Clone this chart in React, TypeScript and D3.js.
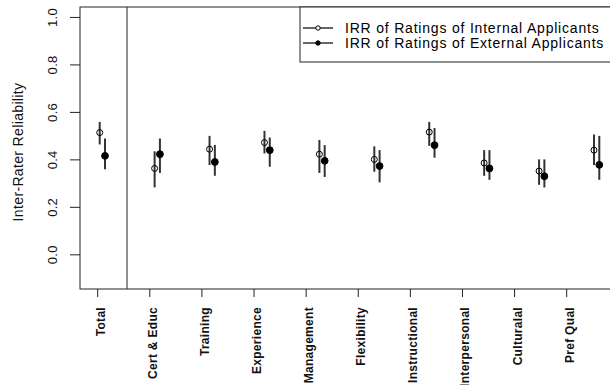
import React from "react";
import * as d3 from "d3";

const categories = [
  "Total",
  "Cert & Educ",
  "Training",
  "Experience",
  "Management",
  "Flexibility",
  "Instructional",
  "Interpersonal",
  "Culturalal",
  "Pref Qual",
];

// internal applicants: estimate, lower, upper
const internalEst = [0.515, 0.364, 0.445, 0.473, 0.424, 0.402, 0.517, 0.387, 0.353, 0.441];
const internalLo = [0.465, 0.284, 0.378, 0.427, 0.345, 0.35, 0.459, 0.333, 0.295, 0.378];
const internalHi = [0.56, 0.436, 0.501, 0.522, 0.484, 0.457, 0.56, 0.441, 0.402, 0.507];

// external applicants
const externalEst = [0.417, 0.424, 0.391, 0.441, 0.396, 0.374, 0.462, 0.364, 0.331, 0.379];
const externalLo = [0.361, 0.345, 0.333, 0.371, 0.328, 0.305, 0.409, 0.316, 0.284, 0.316];
const externalHi = [0.49, 0.49, 0.463, 0.494, 0.462, 0.441, 0.534, 0.441, 0.402, 0.501];

const yTicks = [0, 0.2, 0.4, 0.6, 0.8, 1.0];
const legendLabels = [
  "IRR of Ratings of Internal Applicants",
  "IRR of Ratings of External Applicants",
];

const W = 610;
const H = 385;
const plot = { left: 80, right: 614, top: 7, bottom: 289 };

export default function App() {
  const y = d3.scaleLinear().domain([-0.144, 1.044]).range([plot.bottom, plot.top]);
  // marker positions and label tick positions don't share spacing in the original
  const xPt = d3.scaleLinear().domain([0, 9]).range([99.7, 594]);
  const xTick = d3.scaleLinear().domain([0, 9]).range([97.7, 566.7]);
  const extOffset = 5.3;
  const divider = 127;
  const axisColor = "#222";
  const barColor = "#333";
  const font = "'Liberation Sans', Arial, sans-serif";

  const series = [
    { est: internalEst, lo: internalLo, hi: internalHi, dx: 0, filled: false },
    { est: externalEst, lo: externalLo, hi: externalHi, dx: extOffset, filled: true },
  ];

  return (
    <svg
      width={W}
      height={H}
      style={{ position: "absolute", left: 0, top: 0, background: "#fff" }}
      fontFamily={font}
    >
      <rect x={0} y={0} width={W} height={H} fill="#fff" />
      {/* plot box */}
      <rect
        x={plot.left}
        y={plot.top}
        width={plot.right - plot.left}
        height={plot.bottom - plot.top}
        fill="none"
        stroke={axisColor}
        strokeWidth={1}
      />
      <line x1={divider} x2={divider} y1={plot.top} y2={plot.bottom} stroke={axisColor} strokeWidth={1} />

      {/* y axis */}
      {yTicks.map((t) => (
        <g key={t}>
          <line x1={plot.left - 10} x2={plot.left} y1={y(t)} y2={y(t)} stroke={axisColor} />
          <text
            transform={`translate(${plot.left - 23},${y(t)}) rotate(-90)`}
            textAnchor="middle"
            fontSize={13}
            letterSpacing={0.3}
            fill="#111"
          >
            {t.toFixed(1)}
          </text>
        </g>
      ))}
      <text
        transform={`translate(23,${(plot.top + plot.bottom) / 2 + 4}) rotate(-90)`}
        textAnchor="middle"
        fontSize={14}
        letterSpacing={0.35}
        fill="#111"
      >
        Inter-Rater Reliability
      </text>

      {/* x axis ticks & labels */}
      {categories.map((c, i) => (
        <g key={c}>
          <line x1={xTick(i)} x2={xTick(i)} y1={plot.bottom} y2={plot.bottom + 8} stroke={axisColor} />
          <text
            transform={`translate(${xTick(i) + 7},${plot.bottom + 18}) rotate(-90)`}
            textAnchor="end"
            fontSize={12}
            fontWeight="bold"
            letterSpacing={0.3}
            fill="#111"
          >
            {c}
          </text>
        </g>
      ))}

      {/* error bars and points */}
      {series.map((s, si) => (
        <g key={si}>
          {s.est.map((v, i) => {
            const cx = xPt(i) + s.dx;
            return (
              <g key={i}>
                <line x1={cx} x2={cx} y1={y(s.lo[i])} y2={y(s.hi[i])} stroke={barColor} strokeWidth={2} />
                <circle
                  cx={cx}
                  cy={y(v)}
                  r={s.filled ? 3.4 : 3}
                  fill={s.filled ? "#000" : "none"}
                  stroke="#000"
                  strokeWidth={1}
                />
              </g>
            );
          })}
        </g>
      ))}

      {/* legend */}
      <rect x={300} y={plot.top} width={330} height={55} fill="#fff" stroke={axisColor} />
      {legendLabels.map((l, i) => {
        const ly = 28 + i * 15;
        return (
          <g key={l}>
            <line x1={303} x2={333} y1={ly} y2={ly} stroke="#000" strokeWidth={1.2} />
            <circle cx={318} cy={ly} r={2.2} fill={i === 1 ? "#000" : "#fff"} stroke="#000" />
            <text x={345} y={ly + 5} fontSize={14} letterSpacing={0.8} fill="#000">
              {l}
            </text>
          </g>
        );
      })}
    </svg>
  );
}
